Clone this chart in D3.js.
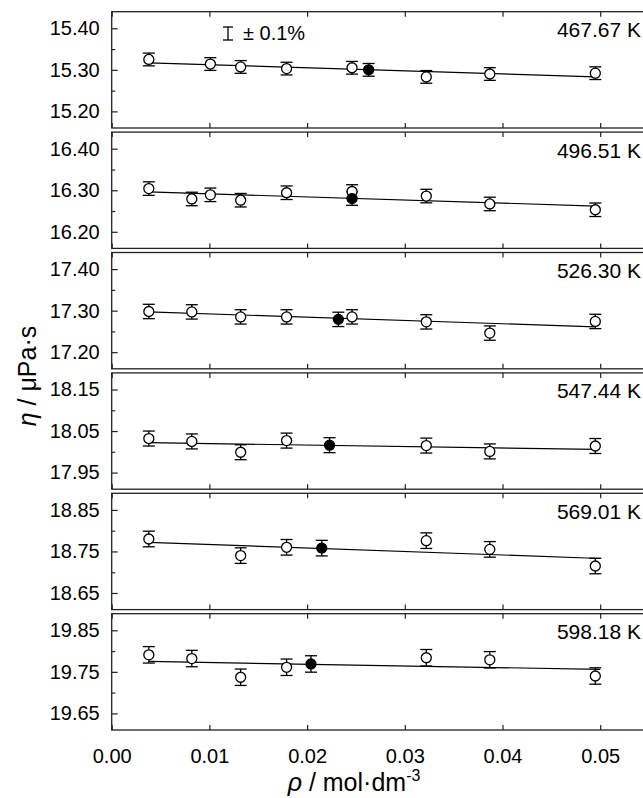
<!DOCTYPE html>
<html>
<head>
<meta charset="utf-8">
<script src="https://cdn.jsdelivr.net/npm/d3@7"></script>
<style>
  body { margin: 0; background: #fff; }
  svg { display: block; font-family: "Liberation Sans", Arial, sans-serif; }
</style>
</head>
<body>
<div id="chart"></div>
<script>
const WIDTH = 643;
const HEIGHT = 798;
const PLOT_LEFT = 111.7;
const PLOT_TOP = 11.7;
const PANEL_H = 116.3;
const PANEL_STEP = 120.4;
const X_PER_UNIT = 9770; // px per mol/dm3
const STROKE = '#222';

// x axis
const X_TICKS = [0.00, 0.01, 0.02, 0.03, 0.04, 0.05];
const X_MAX = 0.056;

// panel labels (temperature)
const TEMPS = ['467.67 K', '496.51 K', '526.30 K', '547.44 K', '569.01 K', '598.18 K'];

// labelled y ticks per panel
const Y_TICKS = [
    [15.20, 15.30, 15.40],
    [16.20, 16.30, 16.40],
    [17.20, 17.30, 17.40],
    [17.95, 18.05, 18.15],
    [18.65, 18.75, 18.85],
    [19.65, 19.75, 19.85],
];

// open circles: [rho, eta]
const OPEN_POINTS = [
    [[0.0038, 15.325], [0.0101, 15.314], [0.0132, 15.307], [0.0179, 15.303], [0.0246, 15.305], [0.0322, 15.283], [0.0387, 15.290], [0.0495, 15.292]],
    [[0.0038, 16.304], [0.0082, 16.279], [0.0101, 16.289], [0.0132, 16.276], [0.0179, 16.294], [0.0246, 16.297], [0.0322, 16.286], [0.0387, 16.267], [0.0495, 16.253]],
    [[0.0038, 17.298], [0.0082, 17.297], [0.0132, 17.285], [0.0179, 17.285], [0.0246, 17.285], [0.0322, 17.273], [0.0387, 17.246], [0.0495, 17.274]],
    [[0.0038, 18.032], [0.0082, 18.025], [0.0132, 17.999], [0.0179, 18.027], [0.0322, 18.015], [0.0387, 18.001], [0.0495, 18.014]],
    [[0.0038, 18.780], [0.0132, 18.740], [0.0179, 18.760], [0.0322, 18.776], [0.0387, 18.755], [0.0495, 18.715]],
    [[0.0038, 19.791], [0.0082, 19.782], [0.0132, 19.737], [0.0179, 19.761], [0.0322, 19.784], [0.0387, 19.779], [0.0495, 19.740]],
];

// filled circles: [rho, eta]
const FILLED_POINTS = [
    [[0.0263, 15.300]],
    [[0.0246, 16.280]],
    [[0.0232, 17.279]],
    [[0.0223, 18.016]],
    [[0.0215, 18.758]],
    [[0.0204, 19.769]],
];

// fitted lines: start and end
const FIT_LINES = [
    [[0.0038, 15.317], [0.0495, 15.283]],
    [[0.0038, 16.296], [0.0495, 16.262]],
    [[0.0038, 17.297], [0.0495, 17.261]],
    [[0.0038, 18.022], [0.0495, 18.006]],
    [[0.0038, 18.772], [0.0500, 18.733]],
    [[0.0038, 19.775], [0.0500, 19.756]],
];

const ERR_FRAC = 0.001; // ± 0.1 %

const svg = d3.select('#chart')
    .append('svg')
    .attr('width', WIDTH)
    .attr('height', HEIGHT);

const x = d3.scaleLinear()
    .domain([0, X_MAX])
    .range([PLOT_LEFT, PLOT_LEFT + X_MAX * X_PER_UNIT]);

TEMPS.forEach((temp, i) => {
    const top = PLOT_TOP + i * PANEL_STEP;
    const bottom = top + PANEL_H;
    const ticks = Y_TICKS[i];
    const y = d3.scaleLinear()
        .domain([ticks[0] - 0.04, ticks[2] + 0.04])
        .range([bottom, top]);

    const g = svg.append('g');

    // minor y ticks
    const minor = [ticks[0] + 0.05, ticks[1] + 0.05];
    g.append('g')
        .attr('transform', `translate(${PLOT_LEFT},0)`)
        .call(d3.axisLeft(y).tickValues(minor).tickSize(-3.5).tickFormat(''))
        .call(a => a.select('.domain').remove());

    // major y ticks
    g.append('g')
        .attr('transform', `translate(${PLOT_LEFT},0)`)
        .call(d3.axisLeft(y).tickValues(ticks).tickSize(-6).tickPadding(12)
            .tickFormat(d3.format('.2f')))
        .call(a => a.select('.domain').remove())
        .call(a => a.selectAll('text').style('font-size', '20px').attr('fill', '#000'));

    // x ticks top and bottom
    g.append('g')
        .attr('transform', `translate(0,${top})`)
        .call(d3.axisTop(x).tickValues(X_TICKS).tickSize(-5).tickFormat(''))
        .call(a => a.select('.domain').remove());

    const xb = g.append('g')
        .attr('transform', `translate(0,${bottom})`)
        .call(d3.axisBottom(x).tickValues(X_TICKS).tickSize(-5).tickPadding(19)
            .tickFormat(i === TEMPS.length - 1 ? d3.format('.2f') : ''))
        .call(a => a.select('.domain').remove());
    xb.selectAll('text').style('font-size', '20px').attr('fill', '#000');

    g.selectAll('.tick line').attr('stroke', STROKE).attr('stroke-width', 1.2);

    // frame
    g.append('rect')
        .attr('x', PLOT_LEFT)
        .attr('y', top)
        .attr('width', x(X_MAX) - PLOT_LEFT)
        .attr('height', PANEL_H)
        .attr('fill', 'none')
        .attr('stroke', STROKE)
        .attr('stroke-width', 1.3);

    // fitted line
    g.append('path')
        .datum(FIT_LINES[i])
        .attr('fill', 'none')
        .attr('stroke', '#000')
        .attr('stroke-width', 1.2)
        .attr('d', d3.line().x(d => x(d[0])).y(d => y(d[1])));

    const allPts = OPEN_POINTS[i].map(d => ({ p: d, filled: false }))
        .concat(FILLED_POINTS[i].map(d => ({ p: d, filled: true })));

    // error bars
    const eb = g.selectAll('g.err')
        .data(allPts)
        .enter()
        .append('g')
        .attr('stroke', '#000')
        .attr('stroke-width', 1.3);
    eb.append('line')
        .attr('x1', d => x(d.p[0])).attr('x2', d => x(d.p[0]))
        .attr('y1', d => y(d.p[1] * (1 + ERR_FRAC)))
        .attr('y2', d => y(d.p[1] * (1 - ERR_FRAC)));
    eb.append('line')
        .attr('x1', d => x(d.p[0]) - 6).attr('x2', d => x(d.p[0]) + 6)
        .attr('y1', d => y(d.p[1] * (1 + ERR_FRAC)))
        .attr('y2', d => y(d.p[1] * (1 + ERR_FRAC)));
    eb.append('line')
        .attr('x1', d => x(d.p[0]) - 6).attr('x2', d => x(d.p[0]) + 6)
        .attr('y1', d => y(d.p[1] * (1 - ERR_FRAC)))
        .attr('y2', d => y(d.p[1] * (1 - ERR_FRAC)));

    // markers
    g.selectAll('circle.pt')
        .data(allPts)
        .enter()
        .append('circle')
        .attr('cx', d => x(d.p[0]))
        .attr('cy', d => y(d.p[1]))
        .attr('r', 5)
        .attr('fill', d => d.filled ? '#000' : '#fff')
        .attr('stroke', '#000')
        .attr('stroke-width', 1.3);

    // temperature label
    g.append('text')
        .attr('x', 641)
        .attr('y', top + 25.5)
        .attr('text-anchor', 'end')
        .style('font-size', '21px')
        .text(temp);
});

// uncertainty legend in first panel
const lg = svg.append('g').attr('stroke', '#000').attr('stroke-width', 1.3);
lg.append('line').attr('x1', 228).attr('x2', 228).attr('y1', 27).attr('y2', 40);
lg.append('line').attr('x1', 223).attr('x2', 233).attr('y1', 27).attr('y2', 27);
lg.append('line').attr('x1', 223).attr('x2', 233).attr('y1', 40).attr('y2', 40);
svg.append('text')
    .attr('x', 243)
    .attr('y', 40)
    .style('font-size', '20px')
    .text('± 0.1%');

// axis titles
const xt = svg.append('text')
    .attr('x', 354)
    .attr('y', 791)
    .attr('text-anchor', 'middle')
    .style('font-size', '25px');
xt.append('tspan').style('font-style', 'italic').text('ρ');
xt.append('tspan').text(' / mol·dm');
xt.append('tspan').attr('dy', -10).style('font-size', '16px').text('-3');

const yt = svg.append('text')
    .attr('transform', 'translate(36,376) rotate(-90)')
    .attr('text-anchor', 'middle')
    .style('font-size', '25px');
yt.append('tspan').style('font-style', 'italic').text('η');
yt.append('tspan').text(' / μPa·s');
</script>
</body>
</html>
